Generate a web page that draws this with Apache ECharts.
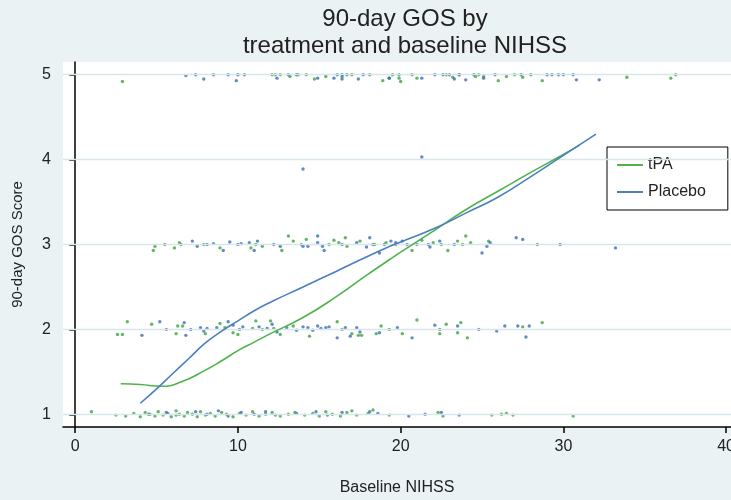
<!DOCTYPE html>
<html>
<head>
<meta charset="utf-8">
<script src="https://cdn.jsdelivr.net/npm/echarts@6/dist/echarts.min.js"></script>
<style>
html,body{margin:0;padding:0;background:#eaf2f3;}
#chart{width:731px;height:500px;}
</style>
</head>
<body>
<div id="chart"></div>
<script>
var xTicks = [0, 10, 20, 30, 40];
var yTicks = [1, 2, 3, 4, 5];

var tpaPoints = [
[1.0,1.03],[2.5,0.99],[3.1,0.98],[3.6,1.01],[4.0,0.97],[4.3,1.02],[4.6,1.0],[4.9,0.98],[5.1,1.03],[5.4,0.99],[5.7,1.01],[5.9,0.97],[6.2,1.04],[6.4,1.0],[6.7,0.98],[6.9,1.02],[7.2,1.0],[7.5,0.97],[7.7,1.03],[8.0,0.99],[8.3,1.01],[8.6,0.98],[9.0,1.02],[9.3,1.0],[9.7,0.97],[10.1,1.01],[10.5,0.99],[10.9,1.03],[11.3,0.98],[11.7,1.0],[12.1,1.02],[12.6,0.98],[13.1,1.0],[13.5,1.02],[14.1,0.99],[14.6,1.01],[15.0,0.98],[15.4,1.03],[15.8,1.0],[16.3,0.98],[16.7,1.02],[17.0,1.04],[17.3,0.99],[18.0,1.01],[18.3,1.05],[19.3,0.99],[22.3,1.02],[22.6,0.98],[25.6,0.99],[26.2,1.0],[26.5,1.01],[26.9,0.99],[30.6,0.98],
[2.6,1.94],[2.9,1.94],[3.2,2.09],[4.7,2.06],[6.2,1.95],[6.3,2.04],[6.6,2.04],[8.0,1.95],[8.9,2.07],[9.2,2.02],[9.7,1.96],[10.0,1.94],[10.9,2.01],[11.1,2.1],[11.5,2.0],[12.0,2.1],[12.2,2.01],[12.6,1.94],[13.4,2.04],[14.4,1.92],[16.1,2.09],[16.4,2.0],[17.0,1.95],[17.4,1.93],[17.6,1.93],[18.5,1.95],[18.8,2.04],[19.3,2.0],[20.1,1.95],[21.0,2.11],[22.4,1.95],[22.8,2.06],[23.5,1.96],[23.7,2.08],[24.1,1.9],[27.5,2.03],[28.7,2.08],
[4.8,2.93],[4.9,2.98],[5.5,3.0],[6.1,2.96],[6.4,3.02],[6.5,3.0],[7.9,3.0],[8.9,2.96],[10.8,2.96],[11.1,3.0],[11.5,2.98],[12.7,2.93],[13.1,3.1],[13.4,3.04],[13.9,3.0],[14.2,3.06],[15.6,3.0],[15.9,3.05],[16.2,3.02],[16.6,3.08],[16.7,2.98],[17.5,3.04],[18.4,3.0],[19.1,3.02],[19.7,3.0],[20.7,2.93],[21.3,3.05],[22.0,3.02],[22.5,3.0],[22.9,2.93],[23.5,3.04],[23.8,3.0],[24.0,3.1],[24.3,3.02],[25.4,3.04],[28.4,3.0],
[2.9,4.92],[12.1,5.0],[12.3,5.0],[12.6,5.0],[13.2,4.98],[13.7,5.0],[14.2,5.0],[14.7,4.95],[15.4,4.98],[16.4,4.98],[17.0,5.0],[18.1,5.0],[18.9,4.93],[19.3,4.96],[19.5,5.0],[19.9,4.96],[20.0,4.92],[20.7,5.0],[21.0,4.96],[22.8,5.0],[23.2,4.97],[23.6,5.0],[24.6,4.98],[24.8,5.0],[25.1,4.98],[26.0,4.93],[26.5,4.98],[27.0,5.0],[27.5,4.97],[28.0,5.0],[28.7,4.93],[33.9,4.97],[36.6,4.96],[36.9,5.0]
];

var placeboPoints = [
[4.5,1.0],[5.6,1.02],[6.2,0.99],[7.4,1.03],[8.1,1.0],[8.8,1.04],[9.4,0.98],[10.2,1.02],[11.0,1.0],[11.7,1.03],[12.3,0.99],[13.6,1.01],[14.8,1.03],[15.5,0.99],[16.4,1.02],[18.1,1.03],[18.6,1.01],[20.5,0.98],[21.5,1.0],[22.5,1.02],[23.6,0.99],
[4.1,1.93],[5.2,2.09],[5.6,2.0],[6.7,2.08],[6.8,1.93],[7.1,2.0],[7.7,2.02],[7.9,1.98],[8.1,2.01],[8.7,2.02],[9.4,2.09],[9.7,2.05],[10.1,2.0],[10.3,2.03],[11.3,2.03],[11.8,2.01],[12.1,2.06],[12.4,1.97],[13.0,2.02],[13.6,1.99],[14.0,2.03],[14.3,2.02],[14.6,1.99],[14.9,2.04],[15.1,2.01],[15.4,2.02],[15.6,2.03],[16.1,1.9],[16.6,2.02],[16.9,1.92],[17.3,2.02],[17.5,1.97],[18.7,1.96],[19.8,2.02],[20.7,1.9],[22.1,2.05],[22.4,2.0],[23.5,2.04],[24.8,2.0],[25.9,1.98],[26.4,2.04],[27.2,2.04],[27.7,1.91],[27.9,2.04],
[7.2,3.04],[7.5,2.98],[8.1,3.0],[8.5,3.01],[9.1,2.93],[9.5,3.03],[10.0,3.0],[10.2,3.01],[10.7,3.02],[11.0,2.93],[11.2,3.04],[12.2,3.0],[12.6,2.98],[14.0,2.98],[14.3,2.98],[14.9,3.1],[14.9,3.02],[15.2,2.98],[15.3,2.93],[16.4,3.0],[17.3,3.02],[17.9,2.97],[18.1,3.08],[18.3,3.0],[18.7,2.9],[19.0,3.0],[19.4,3.04],[19.7,3.02],[20.1,3.04],[20.4,3.0],[21.0,3.0],[21.7,3.0],[21.8,2.97],[22.4,3.04],[23.3,3.0],[25.0,2.9],[25.3,2.98],[25.5,3.02],[27.1,3.08],[27.5,3.06],[29.8,3.0],[33.2,2.96],
[14.0,3.89],[21.3,4.03],
[6.8,4.99],[7.4,5.0],[7.9,4.95],[8.5,5.0],[9.4,5.0],[9.9,4.93],[10.0,5.0],[10.4,5.0],[12.4,4.96],[13.1,5.0],[13.6,5.0],[14.9,4.96],[15.9,4.96],[16.1,5.0],[16.4,5.0],[16.7,5.0],[16.4,4.95],[17.4,4.95],[17.7,5.0],[19.3,4.96],[19.9,5.0],[21.3,4.96],[22.1,5.0],[22.6,5.0],[23.0,5.0],[23.3,4.95],[23.6,5.0],[24.0,4.94],[24.5,5.0],[25.1,4.96],[25.8,5.0],[27.4,5.0],[29.0,5.0],[29.3,5.0],[29.7,5.0],[30.0,5.0],[30.6,5.0],[30.8,4.94],[32.2,4.94]
];

var tpaCurve = [[2.8,1.36],[4,1.35],[5.3,1.33],[6.5,1.38],[8,1.52],[9,1.63],[10,1.75],[11,1.85],[12,1.95],[14,2.14],[16,2.38],[18,2.65],[19.3,2.82],[20,2.91],[22.1,3.17],[24,3.41],[26,3.63],[28,3.85],[30,4.06],[31,4.17]];
var placeboCurve = [[4,1.13],[5,1.3],[6,1.48],[7,1.66],[8,1.84],[9,1.98],[10,2.1],[11,2.22],[12,2.32],[14,2.5],[16,2.68],[17.3,2.8],[19,2.95],[20,3.03],[22.2,3.2],[24,3.37],[26,3.56],[28,3.8],[30,4.05],[32,4.3]];

var seriesNames = ['tPA', 'Placebo'];
var green = '#4db34a', blue = '#4a7fc0';
var greenPt = '#3fa23f', bluePt = '#3b6db5';

var chart = echarts.init(document.getElementById('chart'));
chart.setOption({
  backgroundColor: '#eaf2f3',
  animation: false,
  title: {
    text: '90-day GOS by\ntreatment and baseline NIHSS',
    left: 400, top: 1, textAlign: 'center',
    textStyle: {fontFamily: 'Liberation Sans', fontSize: 24, fontWeight: 'normal', color: '#222', lineHeight: 27}
  },
  legend: {
    data: seriesNames,
    orient: 'vertical',
    left: 607, top: 147,
    backgroundColor: '#fff', borderColor: '#000', borderWidth: 1, borderRadius: 0,
    padding: [10, 22, 10, 10],
    itemGap: 11, itemWidth: 26, itemHeight: 2, icon: 'rect',
    textStyle: {fontFamily: 'Liberation Sans', fontSize: 16, color: '#222'}
  },
  grid: {left: 63, right: 0, top: 62, bottom: 73, show: true, backgroundColor: '#fff', borderWidth: 0, outerBoundsMode: 'none', containLabel: false},
  xAxis: {
    type: 'value', min: -0.75, max: 40.3,
    name: 'Baseline NIHSS', nameLocation: 'middle', nameGap: 53,
    nameTextStyle: {fontFamily: 'Liberation Sans', fontSize: 16, color: '#222'},
    axisLine: {show: true, lineStyle: {color: '#000', width: 1.5}},
    axisTick: {show: true, length: 6, customValues: xTicks, lineStyle: {color: '#000', width: 1.5}},
    axisLabel: {customValues: xTicks, margin: 12, fontFamily: 'Liberation Sans', fontSize: 16, color: '#222'},
    splitLine: {show: false}
  },
  yAxis: {
    type: 'value', min: 0.85, max: 5.15,
    name: '90-day GOS Score', nameLocation: 'middle', nameGap: 38,
    nameTextStyle: {fontFamily: 'Liberation Sans', fontSize: 15, color: '#222'},
    axisLine: {show: true, lineStyle: {color: '#000', width: 1.5}},
    axisTick: {show: true, length: 6, customValues: yTicks, lineStyle: {color: '#000', width: 1.5}},
    axisLabel: {customValues: yTicks, margin: 12, fontFamily: 'Liberation Sans', fontSize: 16, color: '#222'},
    splitLine: {show: false}
  },
  series: [
    {
      type: 'line', data: [], silent: true,
      markLine: {
        silent: true, symbol: 'none', label: {show: false},
        lineStyle: {color: '#d8e6ec', width: 1.3, type: 'solid'},
        data: yTicks.map(function (v) { return {yAxis: v}; })
      }
    },
    {name: 'tPA-pts', type: 'scatter', data: tpaPoints, symbolSize: 3.4, itemStyle: {color: greenPt}, silent: true, z: 3},
    {name: 'Placebo-pts', type: 'scatter', data: placeboPoints, symbolSize: 3.4, itemStyle: {color: bluePt}, silent: true, z: 3},
    {name: seriesNames[0], type: 'line', data: tpaCurve, smooth: true, showSymbol: false, symbol: 'none', lineStyle: {color: green, width: 1.6}, itemStyle: {color: green}, z: 5},
    {name: seriesNames[1], type: 'line', data: placeboCurve, smooth: true, showSymbol: false, symbol: 'none', lineStyle: {color: blue, width: 1.6}, itemStyle: {color: blue}, z: 5}
  ]
});
</script>
</body>
</html>
